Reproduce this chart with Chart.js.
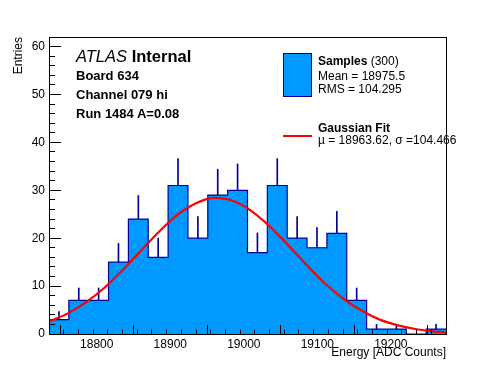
<!DOCTYPE html>
<html>
<head>
<meta charset="utf-8">
<script src="https://cdn.jsdelivr.net/npm/chart.js@4/dist/chart.umd.min.js"></script>
<style>
  html, body { margin: 0; padding: 0; background: #fff; }
  #wrap { position: relative; width: 496px; height: 372px; font-family: "Liberation Sans", Arial, Helvetica, sans-serif; color: #000; }
  #wrap canvas { position: absolute; left: 0; top: 0; }
  .t { position: absolute; white-space: nowrap; line-height: 1; }
  .b13 { font-size: 13px; font-weight: bold; }
  .l12 { font-size: 12px; }
  #box { position: absolute; left: 283px; top: 53px; width: 27px; height: 42px; background: #0099ff; border: 1px solid #000099; }
  #fitline { position: absolute; left: 283px; top: 135px; width: 29px; height: 2px; background: #ff0000; }
</style>
</head>
<body>
<div id="wrap">
  <canvas id="histCanvas" width="496" height="372"></canvas>
  <div class="t" style="left:76px; top:48px; font-size:16.5px;"><i>ATLAS</i> <b>Internal</b></div>
  <div class="t b13" style="left:76px; top:69px;">Board 634</div>
  <div class="t b13" style="left:76px; top:88px;">Channel 079 hi</div>
  <div class="t b13" style="left:76px; top:107px;">Run 1484 A=0.08</div>
  <div id="box"></div>
  <div class="t l12" style="left:318px; top:55px;"><b>Samples</b> (300)</div>
  <div class="t l12" style="left:318px; top:70px;">Mean = 18975.5</div>
  <div class="t l12" style="left:318px; top:83px;">RMS = 104.295</div>
  <div id="fitline"></div>
  <div class="t l12" style="left:318px; top:122px;"><b>Gaussian Fit</b></div>
  <div class="t l12" style="left:318px; top:134px;">µ = 18963.62, σ =104.466</div>
</div>
<script>
    // bin edges (ADC counts) and entries per bin
    const binEdges = [18735, 18762, 18789, 18816, 18843, 18870, 18897, 18924, 18951, 18978, 19005,
                      19032, 19059, 19086, 19113, 19140, 19167, 19194, 19221, 19248, 19275];
    const binCounts = [3, 7, 7, 15, 24, 16, 31, 20, 29, 30, 17, 31, 20, 18, 21, 7, 1, 1, 0, 1];
    // top of the error bar for each bin
    const errTops = [4.7, 9.6, 9.6, 18.9, 28.9, 20, 36.6, 24.5, 34.4, 35.5,
                     21.1, 36.6, 24.5, 22.2, 25.6, 9.6, 2, 2, 0, 2];

    // fit curve
    const fitX = [18735, 18760, 18785, 18810, 18835, 18860, 18885, 18910, 18935, 18960, 18985, 19010,
                  19035, 19060, 19085, 19110, 19135, 19160, 19185, 19210, 19235, 19260, 19275];
    const fitY = [2.6, 4.25, 6.6, 9.6, 13.3, 17.4, 21.4, 24.9, 27.3, 28.4, 27.8, 25.7,
                  22.5, 18.6, 14.5, 10.6, 7.4, 4.9, 3.0, 1.8, 1.0, 0.5, 0.35];

    const xTicks = [18800, 18900, 19000, 19100, 19200];
    const yTicks = [0, 10, 20, 30, 40, 50, 60];

    const histPoints = binCounts.map((c, i) => ({ x: binEdges[i], y: c }));
    histPoints.push({ x: binEdges[binEdges.length - 1], y: binCounts[binCounts.length - 1] });

    const errBars = [];
    binCounts.forEach((c, i) => {
        if (errTops[i] > c) errBars.push({ x: (binEdges[i] + binEdges[i + 1]) / 2, y: [c, errTops[i]] });
    });

    const fitPoints = fitX.map((x, i) => ({ x: x, y: fitY[i] }));

    // box around the pad (top and right sides too)
    const rootFrame = {
        id: 'rootFrame',
        afterDraw(chart) {
            const c = chart.ctx;
            const a = chart.chartArea;
            c.save();
            c.strokeStyle = '#000000';
            c.lineWidth = 1;
            c.strokeRect(Math.round(a.left) + 0.5, Math.round(a.top) + 0.5, Math.round(a.width), Math.round(a.height));
            c.restore();
        }
    };

    Chart.defaults.font.family = '"Liberation Sans", Arial, Helvetica, sans-serif';
    Chart.defaults.font.size = 12;
    Chart.defaults.color = '#000';

    // inward ticks (negative tick length), drawn above the histogram
    const inTicks = (len) => ({ display: true, z: 1, drawOnChartArea: false, drawTicks: true, tickLength: -len, tickColor: '#000', tickWidth: 1 });

    const ctx = document.getElementById('histCanvas').getContext('2d');
    new Chart(ctx, {
        type: 'line',
        data: {
            datasets: [
                {
                    label: 'Gaussian Fit',
                    data: fitPoints,
                    borderColor: '#ff0000',
                    borderWidth: 2.2,
                    pointRadius: 0,
                    cubicInterpolationMode: 'monotone',
                    fill: false,
                    order: 0
                },
                {
                    type: 'bar',
                    label: 'errors',
                    data: errBars,
                    backgroundColor: '#000099',
                    barThickness: 1,
                    order: 1
                },
                {
                    label: 'Samples',
                    data: histPoints,
                    stepped: true,
                    borderColor: '#000099',
                    borderWidth: 1.2,
                    backgroundColor: '#0099ff',
                    fill: 'origin',
                    pointRadius: 0,
                    order: 2
                }
            ]
        },
        options: {
            responsive: false,
            animation: false,
            layout: { padding: { left: 0, top: 37, right: 50, bottom: 0 } },
            plugins: {
                legend: { display: false },
                tooltip: { enabled: false }
            },
            scales: {
                x: {
                    type: 'linear',
                    offset: false,
                    weight: 1,
                    min: binEdges[0],
                    max: binEdges[binEdges.length - 1],
                    afterFit: s => { s.height = 38; },
                    grid: inTicks(9),
                    border: { display: false },
                    ticks: {
                        stepSize: 100,
                        includeBounds: false,
                        autoSkip: false,
                        padding: 12,
                        maxRotation: 0,
                        callback: v => xTicks.includes(v) ? String(v) : ''
                    },
                    title: {
                        display: true,
                        text: 'Energy [ADC Counts]',
                        align: 'end',
                        padding: { top: 0, bottom: 12 }
                    }
                },
                xMinor: {
                    type: 'linear',
                    position: 'bottom',
                    offset: false,
                    weight: 0,
                    min: binEdges[0],
                    max: binEdges[binEdges.length - 1],
                    afterFit: s => { s.height = 0; },
                    grid: inTicks(4.5),
                    border: { display: false },
                    ticks: { stepSize: 20, maxTicksLimit: 100, autoSkip: false, includeBounds: false, padding: 0, callback: () => '' }
                },
                y: {
                    min: 0,
                    max: 62,
                    weight: 1,
                    afterFit: s => { s.width = 49; },
                    grid: inTicks(12),
                    border: { display: false },
                    ticks: {
                        stepSize: 10,
                        includeBounds: false,
                        padding: 16,
                        callback: v => yTicks.includes(v) ? String(v) : ''
                    },
                    title: {
                        display: true,
                        text: 'Entries',
                        align: 'end',
                        padding: { top: 11, bottom: 0 }
                    }
                },
                yMinor: {
                    position: 'left',
                    min: 0,
                    max: 62,
                    weight: 0,
                    afterFit: s => { s.width = 0; },
                    grid: inTicks(6),
                    border: { display: false },
                    ticks: { stepSize: 2, maxTicksLimit: 100, autoSkip: false, includeBounds: false, padding: 0, callback: () => '' }
                }
            }
        },
        plugins: [rootFrame]
    });
</script>
</body>
</html>
